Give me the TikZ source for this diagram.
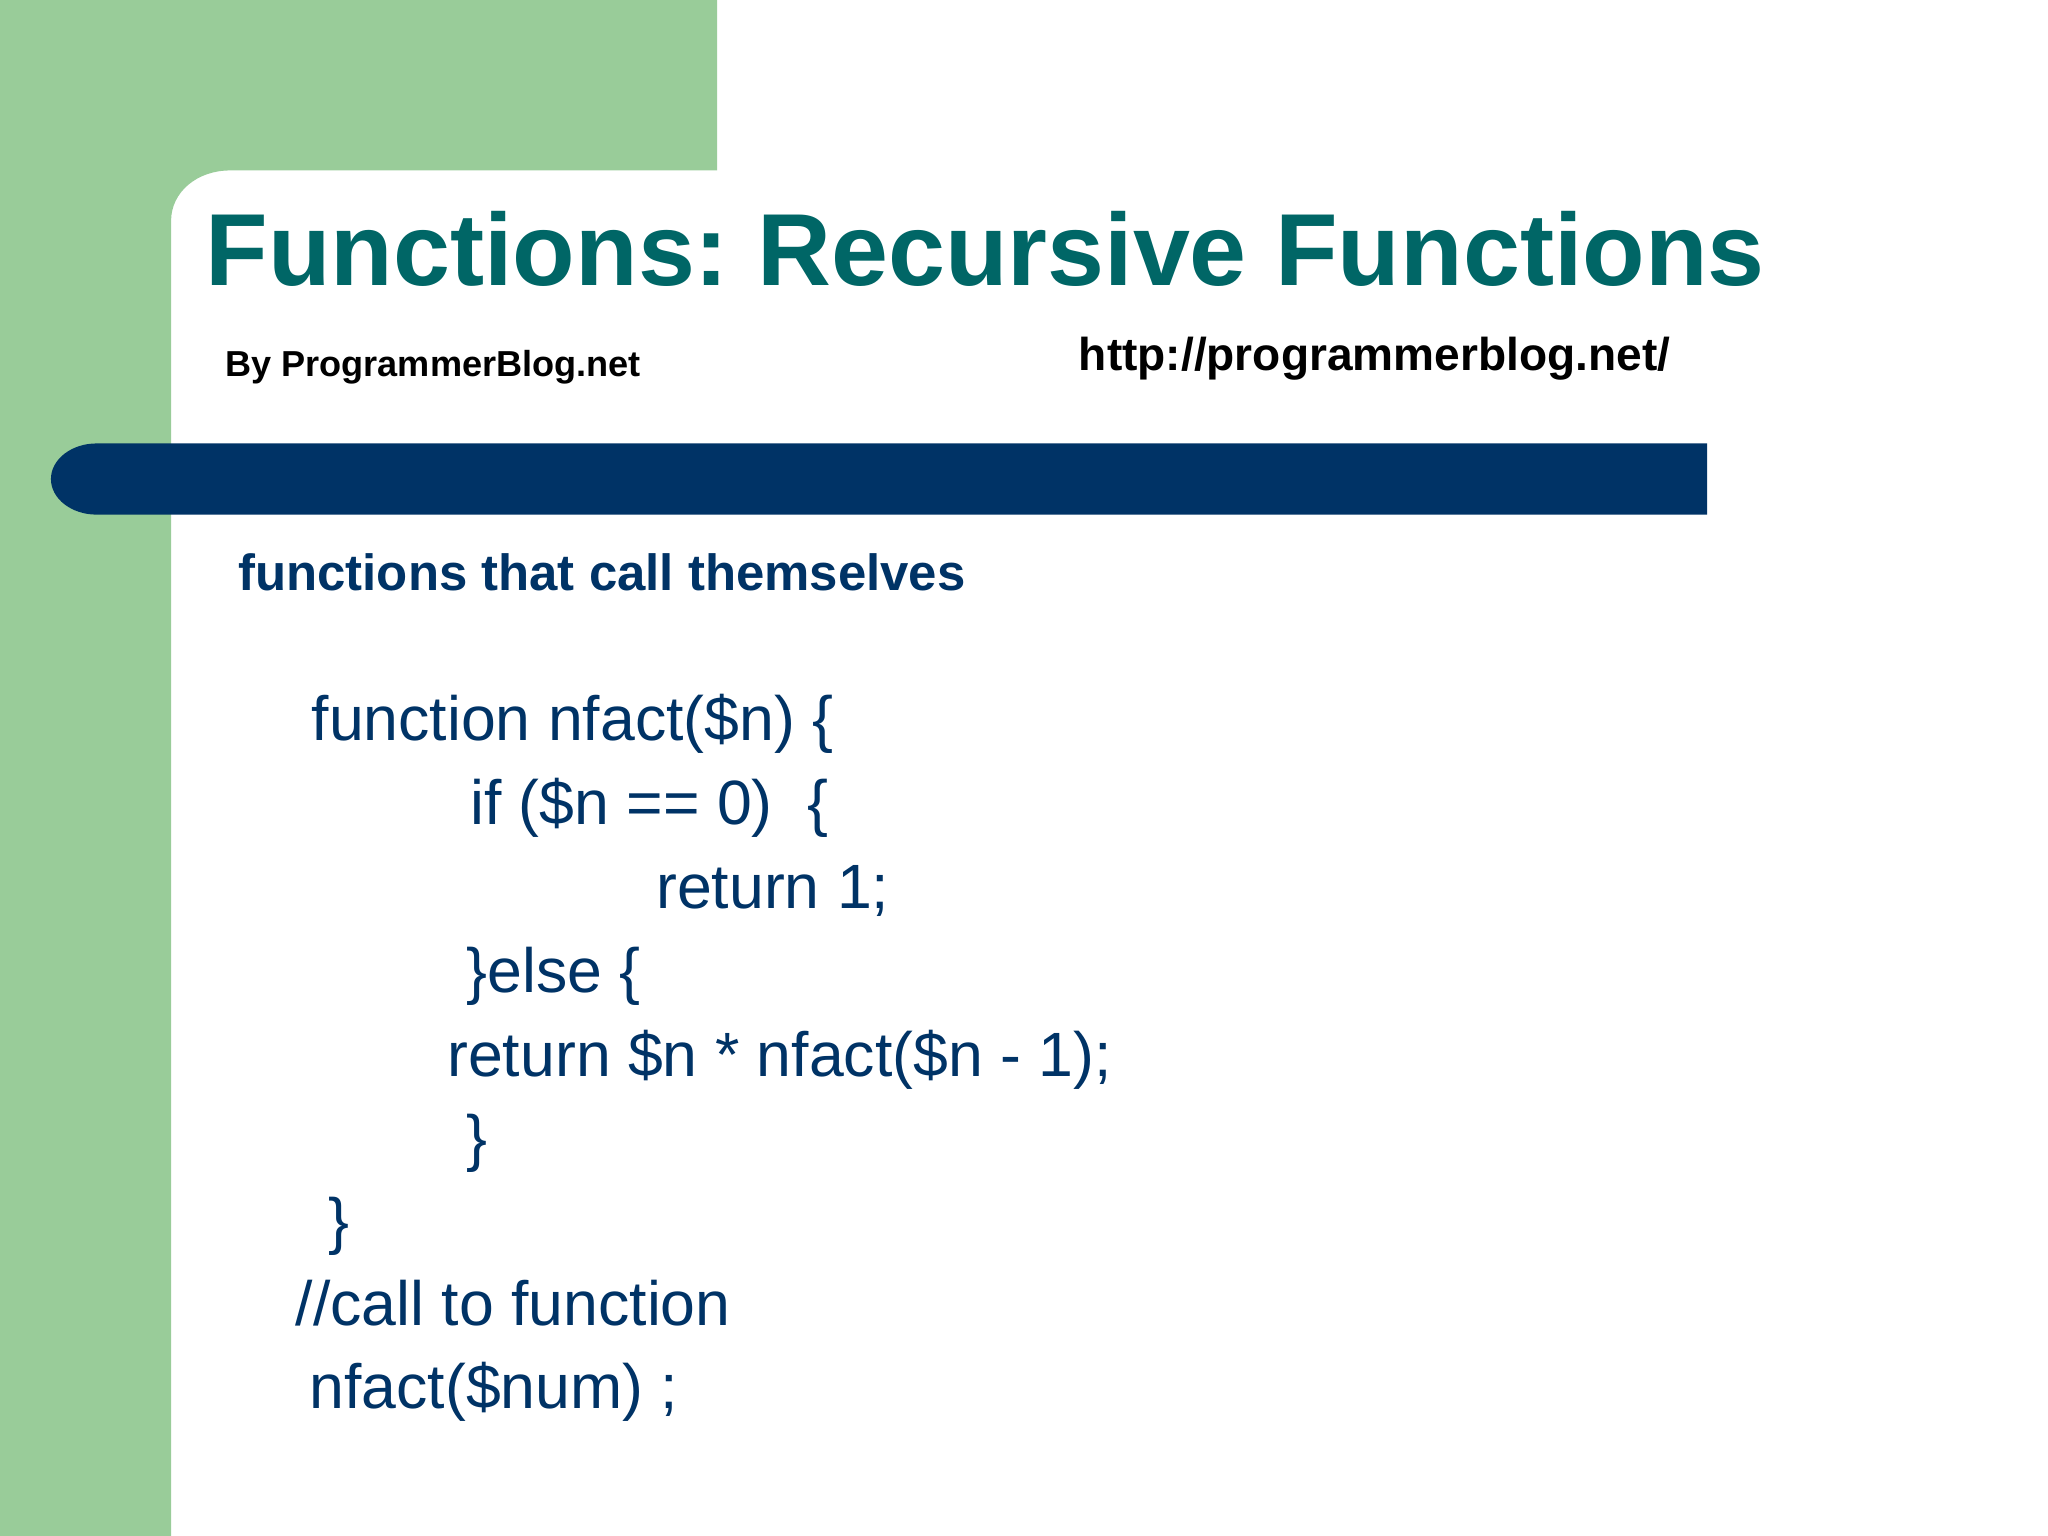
\documentclass[tikz,border=0pt]{standalone}
\usepackage{fontspec}
\setmainfont{Liberation Sans}
\frenchspacing
\definecolor{sgreen}{RGB}{153,204,153}
\definecolor{sblue}{RGB}{0,51,102}
\definecolor{steal}{RGB}{0,102,102}
\begin{document}
\begin{tikzpicture}[x=0.45918pt,y=-0.45918pt,
  txt/.style={anchor=base west, inner sep=0pt, outer sep=0pt},
  titletxt/.style={txt, text=steal, font=\fontsize{36}{43}\selectfont\bfseries},
  smalltxt/.style={txt, text=black, font=\fontsize{12.7}{15}\selectfont\bfseries},
  urltxt/.style={txt, text=black, font=\fontsize{16.2}{19}\selectfont\bfseries},
  subtxt/.style={txt, text=sblue, font=\fontsize{17.9}{21}\selectfont\bfseries},
  codetxt/.style={txt, text=sblue, font=\fontsize{22}{26}\selectfont}]
\fill[white] (0,0) rectangle (1568,1176);
\useasboundingbox (0,0) rectangle (1568,1176);
% green frame
\fill[sgreen] (0,0) -- (549,0) -- (549,130.5) -- (176,130.5)
  .. controls (151,130.5) and (131,147) .. (131,169) -- (131,1176) -- (0,1176) -- cycle;
% blue bar
\fill[sblue] (1307,339.5) -- (74,339.5) .. controls (54.7,339.5) and (39,351.7) .. (39,366.75)
  .. controls (39,381.8) and (54.7,394) .. (74,394) -- (1307,394) -- cycle;
% texts
\node[titletxt] (title) at (157.5,218.3) {Functions: Recursive Functions};
\node[smalltxt] (by) at (172.5,288) {By ProgrammerBlog.net};
\node[urltxt] (url) at (826,283.3) {http://programmerblog.net/};
\node[subtxt] (sub) at (182.5,452) {functions that call themselves};
\node[codetxt] (c1) at (238.6,567) {function nfact(\$n) \{};
\node[codetxt] (c2) at (360,631.4) {if (\$n == 0)\ \ \{};
\node[codetxt] (c3) at (502.5,695.5) {return 1;};
\node[codetxt] (c4) at (357.5,760) {\}else \{};
\node[codetxt] (c5) at (342.5,824) {return \$n * nfact(\$n - 1);};
\node[codetxt] (c6) at (357.5,887.5) {\}};
\node[codetxt] (c7) at (251.5,951.5) {\}};
\node[codetxt] (c8) at (226.5,1014.6) {//call to function};
\node[codetxt] (c9) at (237,1078) {nfact(\$num) ;};
\end{tikzpicture}
\end{document}
